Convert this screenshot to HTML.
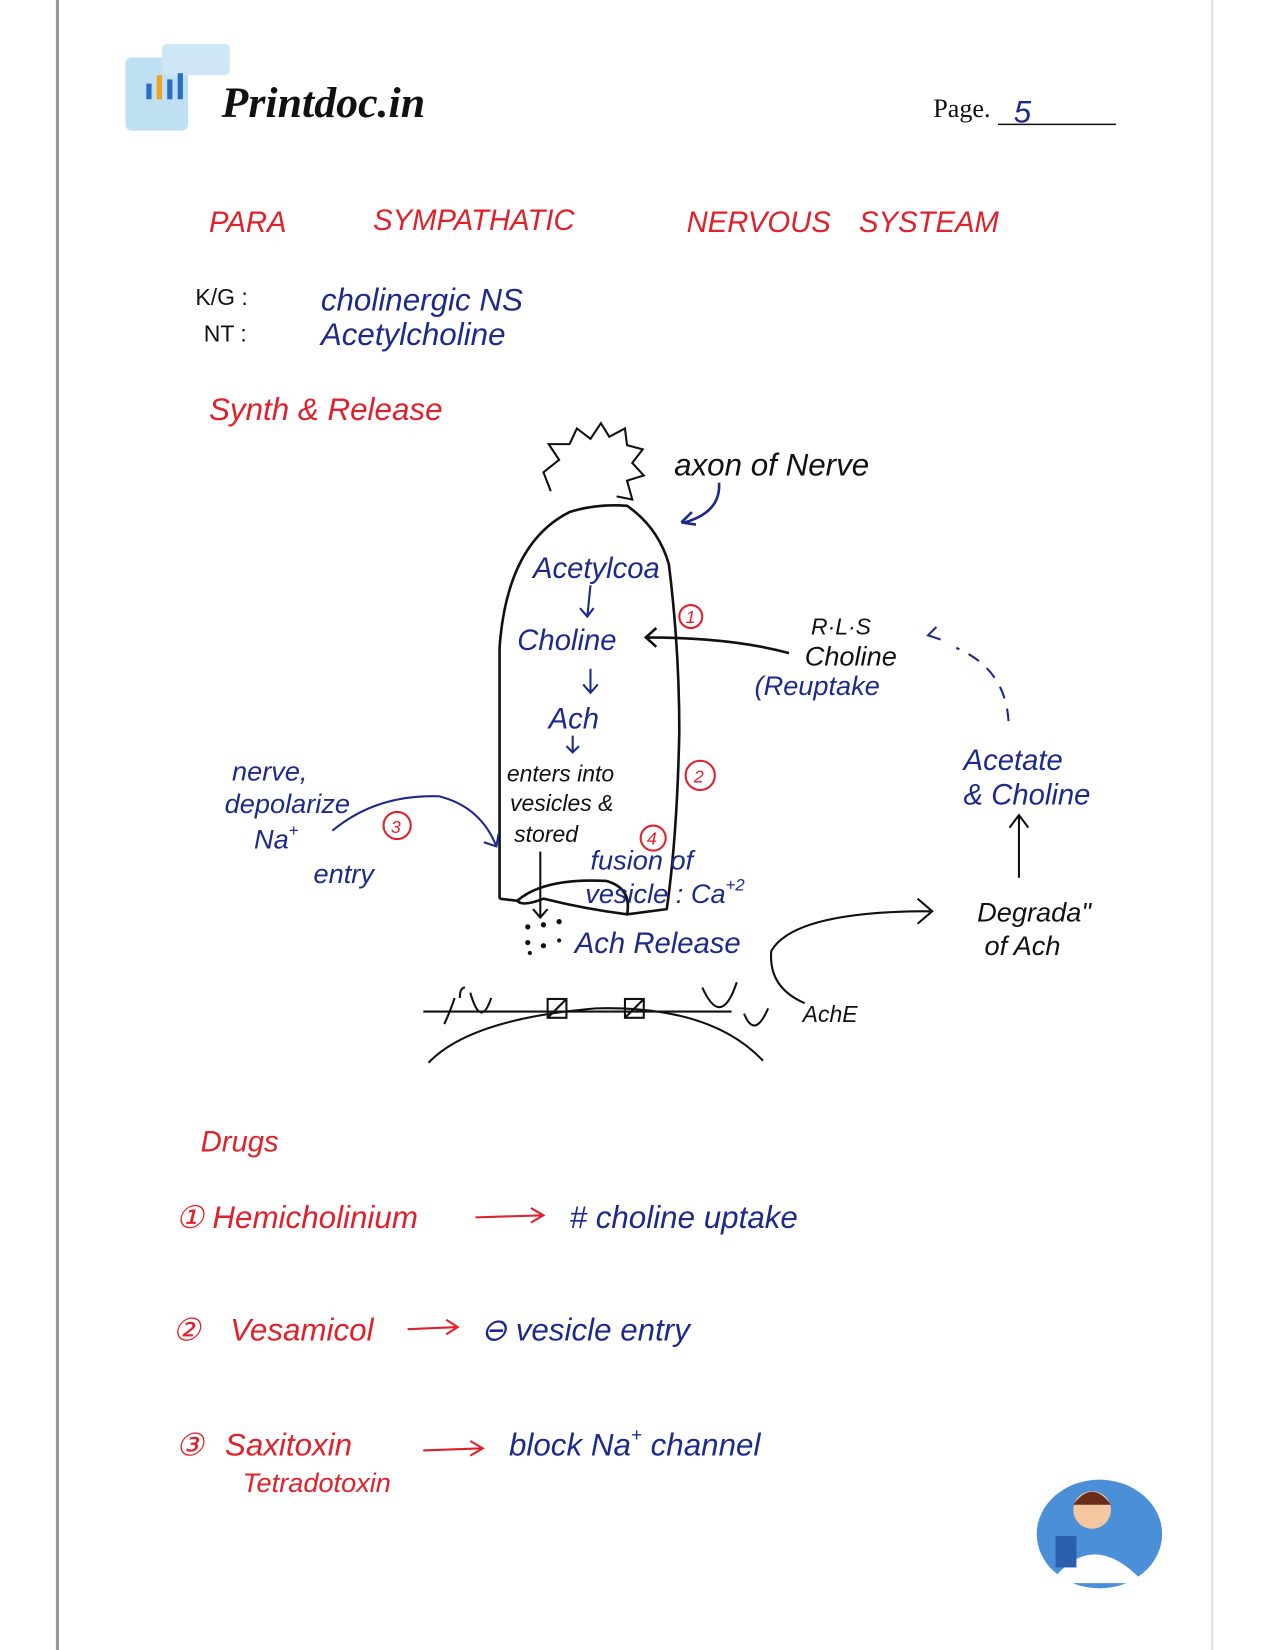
<!DOCTYPE html>
<html><head><meta charset="utf-8"><style>
html,body{margin:0;padding:0;background:#fff;}
svg{display:block;}
text{font-family:"Liberation Sans",sans-serif;font-style:italic;}
.b{fill:#1e2a8a;}
.r{fill:#e0202a;}
.k{fill:#111;}
</style></head><body>
<svg width="1275" height="1650" viewBox="0 0 1220 1579" preserveAspectRatio="none" xmlns="http://www.w3.org/2000/svg">
<rect width="1220" height="1579" fill="#fff"/>
<line x1="55" y1="0" x2="55" y2="1579" stroke="#999" stroke-width="3"/>
<line x1="1160" y1="0" x2="1160" y2="1579" stroke="#ddd" stroke-width="2"/>
<!-- logo -->
<rect x="120" y="55" width="60" height="70" rx="6" fill="#bfe0f2"/>
<rect x="155" y="42" width="65" height="30" rx="5" fill="#cfe7f5"/>
<rect x="140" y="80" width="5" height="15" fill="#2a6cc4"/><rect x="150" y="72" width="5" height="23" fill="#f0a020"/><rect x="160" y="76" width="5" height="19" fill="#2a6cc4"/><rect x="170" y="70" width="5" height="25" fill="#2a6cc4"/>
<text x="212" y="112" font-size="42" font-weight="bold" class="k" style="font-family:'Liberation Serif',serif">Printdoc.in</text>
<text x="893" y="112" font-size="25" class="k" style="font-style:normal;font-family:'Liberation Serif',serif">Page.</text>
<line x1="955" y1="119" x2="1068" y2="119" stroke="#111" stroke-width="1.5"/>
<text x="970" y="117" font-size="30" class="b">5</text>
<!-- title -->
<g class="r" font-size="28">
<text x="200" y="222">PARA</text><text x="357" y="220">SYMPATHATIC</text><text x="657" y="222">NERVOUS</text><text x="822" y="222">SYSTEAM</text>
</g>
<text x="187" y="292" font-size="22" class="k" style="font-style:normal">K/G :</text>
<text x="307" y="297" font-size="30" class="b">cholinergic NS</text>
<text x="195" y="327" font-size="22" class="k" style="font-style:normal">NT :</text>
<text x="307" y="330" font-size="30" class="b">Acetylcholine</text>
<text x="200" y="402" font-size="30" class="r">Synth &amp; Release</text>
<!-- star -->
<path d="M527,470 L520,452 L535,440 L525,425 L545,425 L552,410 L565,420 L575,405 L583,418 L598,410 L600,426 L615,430 L605,443 L616,455 L600,460 L605,478 L590,475" fill="none" stroke="#111" stroke-width="2"/>
<text x="645" y="455" font-size="30" class="k">axon of Nerve</text>
<path d="M688,462 Q690,490 655,500 M652,500 l10,-10 M652,500 l14,2" stroke="#1e2a8a" stroke-width="2.5" fill="none"/>
<!-- nerve body -->
<path d="M478,860 L478,620 Q485,520 545,490 Q570,482 600,484 Q630,505 640,540 Q650,620 650,700 Q648,800 638,870 L600,875" fill="none" stroke="#111" stroke-width="2.5"/>
<path d="M478,860 L495,862 Q520,840 580,843 Q605,850 600,875 Q560,870 520,860 Q500,868 495,862" fill="none" stroke="#111" stroke-width="2.5"/>
<g class="b" font-size="28">
<text x="510" y="553">Acetylcoa</text>
<text x="495" y="622">Choline</text>
<text x="525" y="697">Ach</text>
<text x="550" y="912">Ach Release</text>
<text x="565" y="832" font-size="26">fusion of</text>
<text x="560" y="864" font-size="26">vesicle : Ca<tspan font-size="16" dy="-12">+2</tspan></text>
</g>
<g stroke="#1e2a8a" stroke-width="2" fill="none">
<path d="M565,560 L562,590 M555,582 l7,8 l6,-8"/>
<path d="M565,640 L565,662 M558,655 l7,8 l7,-8"/>
<path d="M548,704 L548,720 M542,714 l6,6 l6,-6"/>
</g>
<g class="k" font-size="22">
<text x="485" y="748">enters into</text><text x="488" y="776">vesicles &amp;</text><text x="492" y="806">stored</text>
</g>
<path d="M517,815 L517,878 M510,870 l7,8 l7,-8" stroke="#111" stroke-width="2" fill="none"/>
<g fill="#111"><circle cx="505" cy="887" r="2.5"/><circle cx="520" cy="885" r="2.5"/><circle cx="535" cy="882" r="2.5"/><circle cx="505" cy="902" r="2.5"/><circle cx="520" cy="905" r="2.5"/><circle cx="535" cy="900" r="2"/><circle cx="507" cy="912" r="2"/></g>
<!-- circled numbers -->
<g stroke="#e0202a" stroke-width="2" fill="none"><circle cx="661" cy="590" r="11"/><circle cx="670" cy="742" r="14"/><circle cx="380" cy="790" r="13"/><circle cx="625" cy="802" r="12"/></g>
<g class="r" font-size="17" style="font-style:normal"><text x="656" y="596">1</text><text x="664" y="749">2</text><text x="374" y="797">3</text><text x="619" y="808">4</text></g>
<!-- reuptake -->
<g class="k" font-size="22"><text x="776" y="607">R·L·S</text><text x="770" y="637" font-size="26">Choline</text></g>
<text x="722" y="665" font-size="26" class="b">(Reuptake</text>
<path d="M755,625 Q700,610 618,610 M628,601 l-10,9 l10,9" stroke="#111" stroke-width="2.5" fill="none"/>
<path d="M965,690 Q962,640 915,620 M900,612 L888,608 M896,600 l-8,8 l10,4" stroke="#1e2a8a" stroke-width="2" fill="none" stroke-dasharray="12,10"/>
<g class="b" font-size="28"><text x="922" y="737">Acetate</text><text x="922" y="770">&amp; Choline</text></g>
<path d="M975,840 L975,780 M966,792 l9,-12 l9,12" stroke="#111" stroke-width="2" fill="none"/>
<g class="k" font-size="26"><text x="935" y="882">Degrada"</text><text x="942" y="914">of Ach</text><text x="768" y="978" font-size="22">AchE</text></g>
<path d="M770,960 Q735,945 738,910 Q760,872 890,872 M878,860 l14,12 l-14,12" stroke="#111" stroke-width="2" fill="none"/>
<!-- depolarize -->
<g class="b" font-size="26"><text x="222" y="747">nerve,</text><text x="215" y="778">depolarize</text><text x="243" y="812">Na<tspan font-size="16" dy="-12">+</tspan></text><text x="300" y="845">entry</text></g>
<path d="M318,795 Q360,760 420,762 Q460,772 475,810 M463,806 l12,4 l2,-12" stroke="#1e2a8a" stroke-width="2" fill="none"/>
<!-- membrane -->
<path d="M410,1017 Q450,975 570,965 Q680,962 730,1015" fill="none" stroke="#111" stroke-width="2"/>
<line x1="405" y1="968" x2="700" y2="968" stroke="#111" stroke-width="2"/>
<g stroke="#111" stroke-width="2" fill="none">
<rect x="524" y="956" width="18" height="18"/><line x1="524" y1="974" x2="542" y2="956"/>
<rect x="598" y="956" width="18" height="18"/><line x1="598" y1="974" x2="616" y2="956"/>
<path d="M435,955 Q430,970 425,980 M440,955 Q440,945 445,945"/>
<path d="M450,950 Q460,985 470,955"/>
<path d="M672,945 Q690,985 705,940"/>
<path d="M712,970 Q722,995 735,965"/>
</g>
<!-- drugs -->
<text x="192" y="1102" font-size="28" class="r">Drugs</text>
<g class="r" font-size="30">
<text x="168" y="1175">① Hemicholinium</text>
<text x="165" y="1283">② <tspan dx="20">Vesamicol</tspan></text>
<text x="168" y="1393">③ <tspan dx="12">Saxitoxin</tspan></text>
<text x="232" y="1428" font-size="26">Tetradotoxin</text>
</g>
<g stroke="#e0202a" stroke-width="2" fill="none">
<path d="M455,1165 L520,1163 M508,1156 l12,7 l-12,7"/>
<path d="M390,1272 L438,1270 M427,1263 l11,7 l-11,7"/>
<path d="M405,1388 L462,1386 M450,1379 l12,7 l-12,7"/>
</g>
<g class="b" font-size="30">
<text x="545" y="1175"># choline uptake</text>
<text x="460" y="1283">⊖ vesicle entry</text>
<text x="487" y="1393">block Na<tspan font-size="18" dy="-14">+</tspan><tspan dy="14"> channel</tspan></text>
</g>
<!-- doctor logo -->
<ellipse cx="1052" cy="1468" rx="60" ry="52" fill="#4a8fd8"/>
<circle cx="1045" cy="1445" r="18" fill="#f4c7a0"/>
<path d="M1027,1440 Q1045,1415 1063,1440 Z" fill="#6a2c1a"/>
<path d="M1005,1515 Q1045,1460 1095,1515 Z" fill="#fff"/>
<rect x="1010" y="1470" width="20" height="30" fill="#2a5fae"/>
</svg>
</body></html>
